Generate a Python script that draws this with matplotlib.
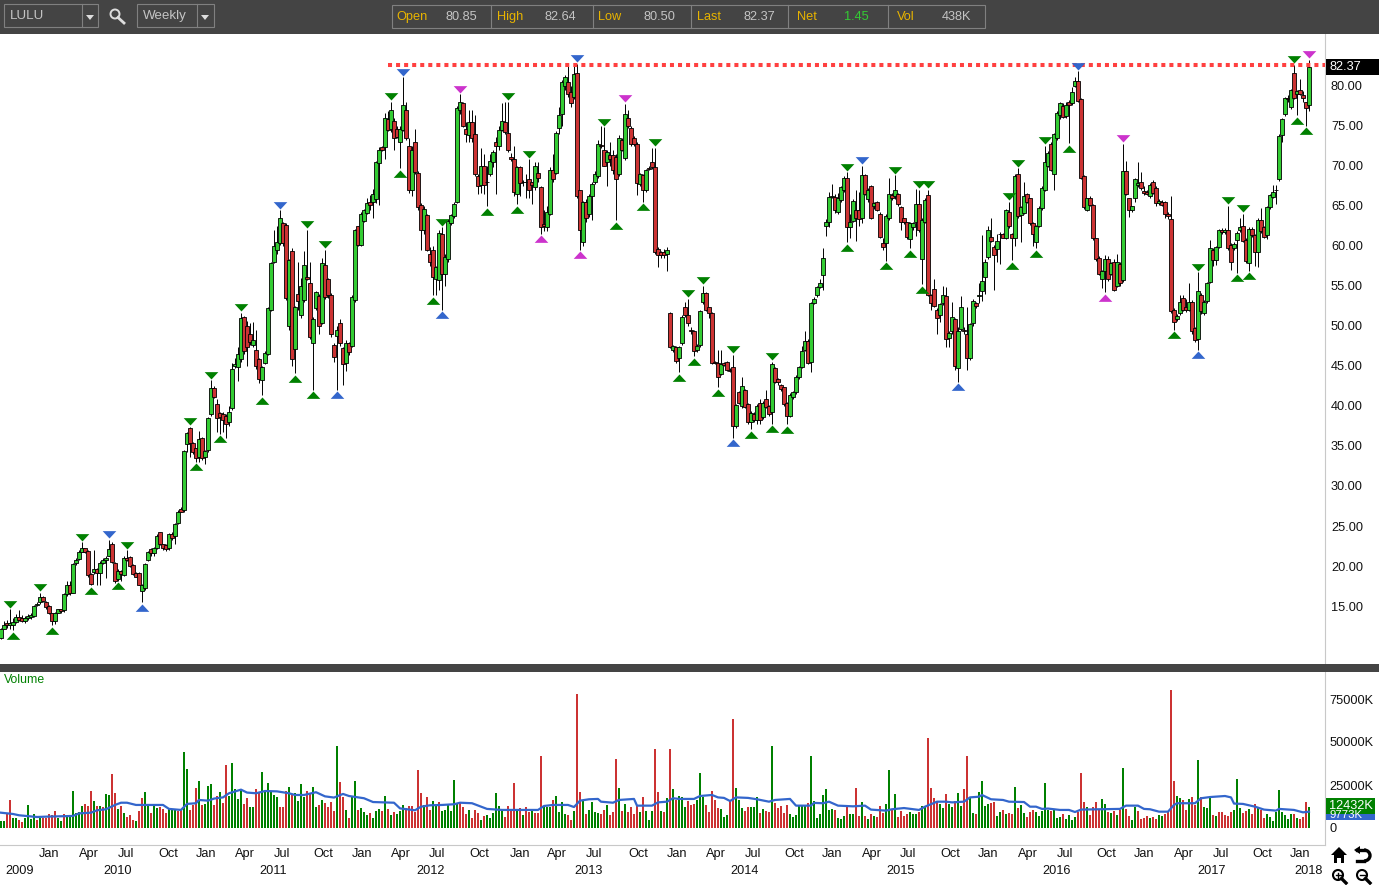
import matplotlib
matplotlib.use("Agg")
import matplotlib.pyplot as plt
from matplotlib.path import Path
from matplotlib.patches import Rectangle, Polygon, Circle, Arc
from matplotlib.transforms import offset_copy

plt.rcParams['font.family'] = ['Liberation Sans', 'DejaVu Sans']

opens = [
11.0,12.2,12.9,12.6,12.6,13.0,13.7,13.5,13.1,13.5,
13.6,13.8,15.1,15.5,16.2,15.5,15.0,14.1,13.1,14.2,
14.6,14.5,16.5,17.6,16.7,20.4,20.9,21.8,22.2,21.9,
19.0,19.3,19.7,19.2,20.4,20.8,21.3,22.8,20.4,18.4,
19.4,18.9,21.0,21.1,20.1,19.1,19.2,16.9,17.3,20.8,
22.1,21.6,22.3,24.2,22.7,22.6,22.2,24.0,23.7,25.4,
27.1,27.0,35.3,37.3,35.4,34.7,33.6,36.0,33.6,34.5,
39.0,42.2,40.2,39.1,39.0,38.8,38.0,39.8,45.0,44.8,
45.9,51.1,50.0,49.0,47.6,47.0,45.9,43.2,45.4,46.5,
52.0,58.0,59.5,60.3,62.8,62.6,50.0,59.4,47.1,54.0,
51.4,53.2,56.1,55.3,47.9,52.2,53.7,50.4,57.6,55.9,
53.9,47.6,48.7,50.4,47.2,45.4,47.8,47.5,53.2,62.4,
60.1,63.1,64.1,65.5,65.4,65.8,70.3,72.3,72.3,75.8,
74.6,75.6,74.6,73.0,74.5,76.9,72.5,67.0,72.9,69.1,
65.1,61.9,63.8,59.0,59.5,55.8,55.7,61.5,56.5,58.3,
62.8,63.7,65.5,76.9,77.8,74.6,73.8,75.4,73.9,68.7,
67.6,69.9,67.9,69.0,70.5,73.0,72.5,74.5,75.5,74.1,
71.1,70.8,66.4,69.8,68.0,67.9,68.3,68.0,67.3,69.1,
67.3,62.7,62.3,64.0,69.5,69.1,74.7,76.5,80.0,80.4,
79.2,78.6,81.6,66.9,60.4,65.5,63.9,66.2,67.9,68.7,
72.6,71.9,70.4,71.3,71.3,71.1,68.9,73.2,71.0,75.9,
74.7,73.4,72.7,67.7,68.8,66.9,69.7,70.4,69.8,59.6,
59.2,59.2,59.0,51.6,47.0,47.4,46.0,47.8,52.3,51.3,
49.5,49.3,47.0,47.6,53.0,54.1,52.3,51.6,45.5,45.4,
44.0,45.3,45.5,44.5,44.8,37.5,41.7,40.0,42.0,40.2,
38.0,39.0,38.3,40.3,38.6,40.8,40.0,39.2,44.7,43.4,
42.6,42.3,40.3,38.8,41.1,41.7,43.6,44.9,47.0,48.1,
45.5,52.9,53.8,54.9,56.3,62.4,63.0,66.1,66.1,64.2,
65.7,66.9,68.5,62.3,63.1,64.5,64.4,63.4,68.8,65.8,
67.4,65.0,65.4,64.0,60.3,60.3,63.4,66.3,66.2,66.4,
64.8,63.4,62.9,60.8,62.3,63.0,65.2,58.4,63.0,66.3,
53.8,54.6,52.0,51.3,52.8,53.7,48.5,49.3,50.8,44.7,
49.6,49.5,49.0,46.0,50.3,52.8,53.7,54.4,56.1,58.6,
61.1,59.9,59.6,61.5,61.4,61.0,64.2,61.4,61.0,68.9,
63.8,64.1,66.4,65.9,62.8,60.4,62.5,64.7,67.0,70.0,
72.7,69.0,73.4,76.3,77.5,76.2,77.9,77.8,80.0,80.5,
78.3,68.7,64.5,66.0,65.1,60.9,58.5,55.8,56.9,58.3,
56.5,58.0,55.0,57.7,55.7,69.3,65.9,64.5,65.9,67.6,
68.0,66.8,66.7,66.2,68.0,67.2,65.3,65.5,65.4,64.0,
63.3,52.0,50.8,51.6,53.5,52.4,52.0,53.0,49.7,48.3,
53.9,51.6,53.1,55.5,59.5,58.2,59.9,62.0,61.7,61.9,
60.1,59.7,60.7,61.9,62.4,60.7,57.9,62.1,61.3,59.2,
63.2,62.3,61.3,64.8,66.1,67.0,68.3,73.8,76.4,78.5,
77.3,81.5,79.0,79.4,78.8,77.9,77.6]

closes = [
12.1,12.7,12.6,12.9,13.0,13.6,13.3,13.2,13.5,13.8,
13.9,15.0,15.3,16.1,15.6,14.9,14.1,13.1,14.2,14.6,
14.4,16.5,17.6,16.7,20.2,20.8,21.8,22.3,21.8,18.9,
17.8,19.7,19.2,20.4,20.8,21.0,22.1,20.5,18.1,19.4,
19.0,21.0,20.7,20.0,19.0,18.7,17.7,17.6,20.2,21.8,
21.6,22.3,23.7,22.8,22.3,22.1,24.0,23.5,25.3,26.8,
26.8,34.4,36.6,35.4,34.2,33.5,35.9,33.5,34.4,38.5,
42.2,41.1,38.5,38.6,38.2,37.8,39.3,44.6,45.2,46.5,
51.0,46.8,47.4,48.0,48.2,45.0,43.3,44.9,46.6,52.2,
57.8,60.0,60.5,63.4,60.3,53.5,58.2,45.9,52.3,53.1,
55.0,57.6,55.8,48.6,50.9,54.2,50.0,57.9,53.6,53.8,
49.0,46.1,49.5,47.8,45.2,47.9,46.7,53.6,61.9,60.1,
64.0,64.4,65.3,65.1,66.5,70.4,72.0,72.0,75.9,74.5,
77.0,73.5,73.6,74.6,77.6,73.5,67.0,72.0,69.2,64.8,
62.0,64.6,59.5,58.0,56.1,57.3,61.6,56.5,58.6,63.1,
63.8,65.2,77.2,77.9,75.0,73.9,75.4,73.4,69.0,67.4,
69.9,67.6,68.0,70.6,71.7,72.5,74.5,75.6,74.2,71.9,
70.8,66.7,69.8,67.8,67.9,68.0,67.0,67.6,69.9,68.4,
62.3,62.4,64.2,69.5,68.3,74.1,76.3,80.4,81.0,78.9,
77.8,81.4,66.2,62.0,65.4,63.5,66.2,67.7,69.0,72.7,
72.4,70.0,71.7,70.8,69.4,68.3,73.5,72.0,76.4,74.9,
72.7,72.7,67.8,68.9,67.0,69.4,69.6,69.8,59.2,58.8,
58.9,58.9,59.5,47.4,47.5,45.6,47.3,51.1,51.3,50.3,
49.4,46.8,47.5,51.8,54.1,52.0,51.6,45.4,45.4,43.6,
45.2,45.1,44.5,44.4,37.5,40.1,40.4,42.5,39.9,38.0,
39.1,38.3,40.0,38.3,40.4,39.9,39.0,45.2,43.0,43.0,
42.1,40.2,38.8,41.4,41.7,43.6,44.9,46.9,48.1,45.4,
52.9,53.4,54.8,55.3,58.5,63.0,66.1,66.2,64.4,66.0,
67.3,68.4,62.3,63.0,65.6,63.4,63.3,68.8,66.5,66.9,
63.5,65.3,64.5,61.1,59.8,63.7,66.4,65.9,67.0,65.2,
62.9,62.9,61.1,62.8,62.8,65.2,61.9,63.2,65.7,53.9,
52.9,52.5,51.0,52.7,53.8,48.4,49.1,51.1,45.0,49.3,
52.4,49.4,46.0,50.2,53.1,52.5,53.9,55.6,58.0,62.0,
60.6,58.8,60.6,61.4,61.0,64.4,62.4,61.0,68.7,63.7,
64.8,66.2,65.5,62.8,61.5,62.4,64.7,67.2,70.5,71.6,
69.5,73.9,76.6,77.8,76.1,77.6,77.6,79.2,80.6,78.1,
68.5,64.8,65.9,65.1,60.9,58.3,56.5,56.9,58.4,55.8,
57.8,54.5,58.0,55.3,69.3,66.5,64.5,64.9,68.3,67.8,
67.2,66.6,66.5,67.6,66.6,65.3,65.6,65.1,64.0,63.7,
51.8,50.5,51.2,53.0,52.0,52.0,53.0,49.3,48.2,54.3,
51.8,53.0,55.3,59.7,58.2,59.8,61.9,61.7,62.0,59.7,
58.0,60.2,61.6,62.3,60.6,58.1,62.1,61.3,59.2,63.2,
61.8,61.1,64.8,66.3,66.7,66.9,73.7,75.8,78.4,78.3,
79.4,78.5,79.3,79.0,78.5,77.2,82.37]

highs = [
12.3,13.2,13.3,14.6,13.5,14.0,14.5,13.9,13.8,14.0,
14.1,15.2,15.5,16.7,16.3,15.6,15.1,14.2,14.3,14.7,
14.7,16.6,18.1,18.1,20.4,21.0,22.0,23.0,22.3,22.0,
19.2,22.0,19.8,20.6,21.0,21.2,23.3,23.0,20.5,19.6,
19.5,21.3,22.0,21.2,20.2,19.3,19.3,17.8,20.4,21.9,
22.2,22.4,24.0,24.3,22.8,22.7,24.1,24.2,25.4,27.0,
27.4,34.5,36.8,37.4,35.5,34.8,36.9,36.1,34.5,38.6,
43.2,42.5,40.8,39.3,39.3,39.0,40.0,45.4,46.0,47.4,
51.6,51.2,50.6,50.4,50.5,49.5,46.0,45.0,46.8,52.4,
58.0,62.0,62.5,64.4,63.0,62.8,58.4,59.7,52.5,58.0,
56.0,59.3,62.0,58.0,51.1,54.4,54.0,58.5,59.5,56.0,
54.1,47.8,50.0,50.8,47.3,48.2,48.0,53.9,62.1,62.5,
64.2,64.6,66.0,66.3,67.1,70.6,72.3,72.4,76.6,76.8,
78.0,76.0,75.0,75.0,81.0,78.0,73.4,72.5,74.6,69.3,
65.3,65.0,64.0,59.8,60.0,57.5,62.0,62.3,59.0,63.3,
64.0,65.4,77.5,78.9,78.0,75.5,77.0,77.0,76.3,68.9,
72.2,71.5,70.0,71.5,72.0,73.6,75.0,77.8,78.0,78.0,
71.6,72.5,70.0,70.0,68.2,68.9,70.8,68.0,70.4,70.4,
67.5,64.5,65.0,69.8,71.5,74.3,77.3,80.7,81.3,82.4,
80.0,82.4,82.7,67.0,65.6,65.8,66.4,67.9,69.3,73.2,
75.0,74.8,72.0,73.0,72.0,71.5,73.8,73.5,77.7,77.0,
74.9,73.7,72.9,69.1,69.0,69.6,70.0,72.2,72.2,59.8,
59.4,59.6,59.9,51.7,47.6,47.5,47.5,51.3,53.0,53.4,
49.8,49.5,47.7,52.0,55.0,54.2,52.4,51.7,45.6,47.0,
47.0,45.5,45.6,44.7,46.4,40.2,41.8,43.6,42.1,40.3,
39.4,39.3,40.2,40.8,40.6,42.0,40.1,45.5,44.9,43.5,
42.7,42.4,40.5,41.6,41.9,43.8,45.0,47.5,49.4,48.3,
53.0,53.6,55.0,55.8,59.7,63.3,66.7,67.7,66.4,66.6,
67.5,68.7,69.2,64.0,65.8,67.0,66.7,70.0,69.0,67.2,
67.6,65.5,65.6,64.2,61.0,64.0,68.5,66.6,68.8,66.6,
65.0,63.5,63.0,63.0,63.0,67.1,67.0,63.5,66.0,67.0,
54.0,55.8,52.2,52.9,55.0,54.8,49.4,53.0,51.0,49.8,
53.7,49.8,52.4,50.4,53.3,53.0,55.3,61.3,58.4,62.4,
63.5,60.1,61.5,61.7,61.6,64.6,65.5,61.6,69.0,69.7,
65.0,68.0,66.6,66.0,63.0,62.6,64.9,67.4,72.5,71.8,
73.0,74.1,76.8,78.0,77.8,78.0,78.2,79.8,81.0,81.8,
78.4,68.8,66.0,66.2,65.2,61.0,58.7,57.0,58.9,58.7,
58.0,58.4,59.0,58.0,72.7,70.6,66.0,65.0,68.5,70.4,
69.2,67.4,66.9,67.8,68.2,67.4,65.8,65.7,65.6,64.2,
66.2,52.2,51.5,53.9,53.8,53.4,55.3,53.2,49.9,56.7,
54.1,53.2,55.5,60.7,59.7,60.0,62.1,62.2,62.2,65.0,
60.3,60.4,61.8,63.4,64.0,60.9,62.3,62.3,61.5,63.4,
64.7,62.5,65.0,66.5,67.6,67.6,73.9,76.0,78.6,78.8,
79.6,82.6,79.5,80.8,79.3,78.0,83.2]

lows = [
10.9,12.1,12.3,12.2,12.0,12.9,13.1,13.0,12.9,13.3,
13.4,13.7,15.0,15.3,15.5,14.7,14.0,12.6,12.8,14.1,
14.2,14.3,16.3,16.4,16.6,20.1,20.8,21.7,21.6,18.6,
17.6,19.0,17.7,17.7,20.3,18.5,21.2,20.4,17.9,18.2,
18.1,18.8,20.6,19.9,18.9,18.6,17.6,15.5,17.0,20.6,
21.3,21.2,22.1,22.6,22.0,21.9,22.0,23.2,22.8,25.3,
26.7,26.8,34.3,33.6,34.0,33.0,33.0,33.2,32.8,34.3,
38.8,41.0,36.8,36.5,36.7,36.0,37.5,39.5,44.7,43.1,
45.5,46.5,45.0,47.6,47.3,44.6,42.9,41.3,45.2,46.4,
51.8,57.8,59.0,60.1,60.0,53.2,49.5,45.0,44.1,52.0,
51.0,53.0,55.7,48.4,42.0,52.0,49.0,50.2,53.4,53.5,
48.6,45.5,42.0,47.5,42.6,44.4,46.4,47.3,53.0,60.0,
60.0,63.0,63.9,64.4,63.4,65.3,65.1,71.8,70.8,74.3,
74.2,72.0,73.4,69.7,74.3,73.2,66.6,66.2,69.0,64.5,
59.5,61.5,59.3,57.5,53.8,53.9,54.5,52.0,55.0,58.0,
62.6,63.5,65.3,76.5,74.8,73.0,73.0,73.0,68.7,66.5,
66.6,66.4,64.9,68.7,69.8,66.4,72.0,74.3,74.0,71.7,
70.6,66.2,65.2,66.2,67.4,65.9,65.9,65.2,67.0,68.0,
61.5,61.8,61.8,63.8,68.0,68.9,74.0,75.0,79.5,78.6,
77.3,78.3,66.0,59.5,60.0,63.0,63.6,63.2,67.7,68.5,
72.2,70.0,67.5,70.0,69.0,63.2,68.7,71.8,70.7,74.7,
72.5,72.5,66.3,67.5,65.5,66.7,69.4,69.6,59.0,57.3,
58.5,58.5,56.9,47.2,46.7,45.4,44.2,47.6,51.1,50.0,
49.0,46.2,46.7,47.4,52.7,51.8,51.0,45.2,45.2,42.3,
43.8,45.0,44.3,44.2,36.0,37.3,40.2,39.8,39.7,37.7,
37.1,38.0,37.8,37.8,38.4,39.7,38.8,37.8,42.8,42.6,
41.9,40.0,37.7,38.6,40.9,41.5,43.4,44.7,46.8,45.2,
44.2,52.7,53.6,54.7,54.5,61.2,62.3,66.0,64.1,64.0,
65.4,66.7,60.4,61.0,62.9,60.6,62.5,62.8,66.3,65.5,
63.3,64.6,64.3,60.9,59.5,58.1,63.2,65.7,65.8,65.0,
62.0,62.7,60.8,59.7,62.0,61.2,61.7,55.2,62.8,53.7,
52.0,52.3,49.0,50.5,52.6,47.3,47.3,49.0,44.5,43.0,
49.4,49.0,44.5,45.7,50.0,52.2,52.8,53.1,54.0,58.4,
60.4,54.5,58.0,57.7,60.9,60.8,62.2,58.2,60.0,63.5,
60.4,63.9,65.3,62.6,60.0,59.7,62.3,64.5,66.8,69.8,
69.3,67.0,73.2,75.8,75.9,76.0,72.8,77.6,79.8,78.0,
68.3,64.6,64.3,64.9,60.7,58.1,56.3,54.7,54.2,55.6,
56.3,54.3,54.8,55.0,55.5,66.3,63.6,64.2,65.5,67.3,
67.0,66.3,66.3,66.0,66.4,65.0,65.1,64.9,63.4,63.3,
51.6,49.5,50.6,51.4,51.8,51.7,51.8,49.0,48.0,47.0,
51.5,51.4,52.9,55.3,57.5,57.6,59.7,61.5,61.5,59.5,
57.0,59.5,56.6,61.7,60.4,57.9,56.9,61.1,57.5,57.4,
61.6,60.9,60.8,64.6,66.0,65.2,68.1,73.0,76.2,78.0,
77.1,78.3,76.3,78.8,78.0,75.0,76.8]

volumes = [
4070,4070,8150,16300,5800,5800,4650,3500,5800,13400,
5200,8150,4650,5800,5800,5800,8150,7500,9900,5800,
4070,8150,7500,6900,21500,8700,9300,12800,14000,12800,
21500,15700,12800,12800,12200,19800,19200,31400,20400,11000,
12800,8700,6400,7500,4650,4070,9900,17500,21000,12800,
8700,12800,11600,12200,11000,8700,11000,10500,10500,9900,
10500,44200,34300,10500,13400,23300,27400,13400,14000,24400,
25600,13400,18600,21000,14600,36700,18600,37800,22700,16900,
22700,14000,17500,12200,12200,22700,20400,32600,21500,26200,
21000,19200,18000,12200,12200,21500,23900,19200,20400,15700,
25600,18000,21500,19800,23900,12200,13400,16300,14600,12200,
15100,9900,47700,26800,18000,10500,5800,18000,27400,10500,
11600,9300,7500,8700,5800,9900,11000,9900,18600,11000,
7500,9300,8150,9900,13400,11600,12800,12800,9300,33800,
20400,13400,18000,10500,15700,13400,15100,9900,10500,13400,
9900,28000,14600,15100,12200,8150,10500,5800,10500,8700,
4650,6980,7500,5800,8700,20400,12800,9900,6400,12800,
10500,26200,9900,11600,7500,12200,9300,9900,8700,8700,
41900,12200,12200,12200,16300,18600,9300,15100,8150,7500,
4650,9900,78000,21000,16300,8150,10500,15100,9300,8700,
8150,10500,13400,7500,9300,40200,23300,9900,14000,9300,
12200,8150,12800,9300,18000,9900,4650,9900,46000,21000,
9900,9300,17500,46000,22700,16300,18600,18000,12200,15700,
13400,14000,16300,32000,18000,13400,9300,21500,16300,11600,
11000,6400,7500,15700,63400,23300,16300,11600,9900,12200,
12200,12200,18000,8700,11000,9900,9300,47700,14600,11600,
12800,8700,13400,8150,6400,7500,12800,12800,12800,14600,
41900,15700,5800,8150,19200,22700,10500,11000,10500,5800,
5200,6980,12200,8150,8150,23300,6980,15100,6980,5200,
8150,6980,6400,12800,8700,14000,33800,11000,19800,6400,
9900,6980,8150,9300,8150,8150,9300,12800,12800,52400,
23300,17500,15700,14000,11600,19800,14000,12200,15700,20400,
12800,22700,41900,17300,8700,8150,21000,27400,12800,14000,
14600,15100,6980,9300,10500,8150,8700,8150,23900,11600,
13400,8700,6400,9300,10500,9300,6980,9900,26200,10500,
9900,10500,5800,6400,8150,5200,7500,4650,6400,9300,
32000,15100,12200,7500,12200,15100,11000,16900,14000,9300,
8700,9900,7500,10500,34900,11000,6980,4650,12200,9900,
5200,5800,6980,5800,6400,5200,7500,6980,8150,9300,
80300,27400,18600,17500,16300,10500,16900,18000,13400,39600,
18000,12200,11600,17500,7500,6980,9300,9300,7500,6980,
9300,10500,28500,11600,8700,9900,11000,8150,14000,12200,
10500,5800,8150,6400,4070,9300,22100,9300,7500,5200,
8150,8150,5800,5200,6400,15100,12432]

volume_sides = "".join([
"ggrrggrrgg","ggrgrrrrrg","grggggggrr","rgrgrggrrg","rgrrrgrrgg",
"rggrrrgggr","rggrrrgrgg","grrgrrgggg","grrggrrggg","gggrrrgrgg",
"ggrrggrgrr","rrgrrgrggr","gggrgggrgr","grgggrrrrr","rgrrggrggg",
"gggrrrgrrr","grggggggrr","rrgrgrrgrr","rgggrggggr","rgrrgrgggg",
"rrgrrrgrgr","rrrgrgggrr","grgrgrgggr","rrgggrrrrr","gggrrgggrr",
"gggrgrrgrr","rrrggggggr","ggggggggrg","ggrggrrgrg","rgrrrggrgr",
"rrrgggrggr","rrrggrggrg","grrggrgggg","rrggrgrrgr","ggrrrggggg",
"rgggrggggr","rrgrrrrggr","grgrgrrggr","rrrgrrggrr","rrggrrgrrg",
"rgggrgrrrr","rgggrrgrrg","rrgggggggg","grgrrrg"])

# Moving average of volume, hand-read vertices (week, thousand shares)
ma_weeks = [0,4,6,12,15,24,26,30,32,35,38,40,42,45,49,54,56,60,62,65,66,69,71,74,76,80,82,85,88,92,
96,98,101,105,108,111,114,116,121,124,131,133,138,140,143,147,151,153,157,160,162,167,179,181,184,189,191,193,196,199,
200,204,206,211,212,217,219,222,224,226,231,233,237,239,241,243,245,249,252,256,258,263,265,270,271,274,276,279,284,288,
290,295,297,301,306,308,312,315,317,321,323,326,327,330,334,336,341,343,345,347,349,353,356,358,360,373,375,379,381,383,
386,389,391,392,398,400,403,408,410,411,414,418,421,425,426,431,434,436]
ma_values = [8900,8150,7400,6400,6600,7000,8500,8900,10300,10900,13400,14700,14700,13400,13400,13400,11100,10500,14000,14400,16300,15900,17100,17800,20200,22300,20600,20200,21500,21300,
20200,19200,19200,20800,18400,17700,19800,18600,17300,15100,14700,11400,10300,12400,13200,13400,13800,14700,14400,12400,11100,10500,10500,12800,13400,13400,12200,15900,16700,16900,
15300,14700,16300,16900,13000,13000,14900,15300,17300,16900,16900,18600,19200,17800,17500,15700,17800,17500,16700,15300,16300,16900,13000,13000,14600,14400,15300,13000,12600,13000,
10700,10100,10900,11600,10500,12400,15300,15300,14900,15300,17800,18200,19200,16700,16300,15300,15100,12400,12400,11100,11300,10500,10500,9300,10700,11100,13000,13000,11100,10900,
9500,9500,13400,14400,14400,17300,18000,18600,17800,14200,14000,12400,10700,10100,11100,10500,9100,9500]

month_labels = ["Jan","Apr","Jul","Oct"] * 8 + ["Jan"]
month_weeks = [16,29.3,41.7,55.7,68.3,81.3,93.7,107.3,120.3,133.3,145.3,159.3,173,185.3,197.7,212.3,225.3,
               238.3,250.7,264.3,277,290.3,302.3,316.3,329,342.3,354.7,368.3,381,394.3,406.7,420.3,433]
year_labels = ["2009","2010","2011","2012","2013","2014","2015","2016","2017","2018"]
year_weeks = [6.3,39,90.7,143.3,196,248,300,352,403.7,436]

price_ticks = [15,20,25,30,35,40,45,50,55,60,65,70,75,80]
volume_ticks = [0,25000,50000,75000]
resistance = 82.5
resistance_start = 129

down_green = [3,13,27,42,63,70,80,102,108,130,147,169,176,201,218,229,234,244,257,282,298,306,309,336,339,348,399,409,414,431]
down_blue = [36,93,134,192,287,359]
down_magenta = [153,208,374,436]
up_green = [4,17,30,39,65,73,87,98,104,133,144,162,172,205,214,226,231,239,250,257,262,282,295,303,307,337,345,356,391,412,416,432,435]
up_blue = [47,112,147,244,319,399]
up_magenta = [180,193,368]

toolbar_stats = [("Open","80.85",396,477),("High","82.64",497,576),("Low","80.50",598,675),
                 ("Last","82.37",697,775),("Net","1.45",797,869),("Vol","438K",897,971)]

W, H = 1379, 885
UP, DOWN = "#33cc33", "#cc3333"
V_UP, V_DOWN = "#008000", "#cc3333"
BLUE, MAG, DGREEN = "#3366cc", "#cc33cc", "#008000"
BAR = "#444444"
AXC = "#c8c8c8"
FS = 9.2

fig = plt.figure(figsize=(W/100, H/100), dpi=100, facecolor="white")
def axes_px(x0, y0, x1, y1):
    return fig.add_axes([x0/W, 1-y1/H, (x1-x0)/W, (y1-y0)/H])

ax = axes_px(0, 34, 1325, 664)
vx = axes_px(0, 672, 1325, 845)
n = len(closes)
xs = list(range(n))
xlim = (-1/3, 1324/3)

# Candles
ax.vlines(xs, lows, highs, color="black", lw=0.7, zorder=2)
bottoms = [min(o, c) for o, c in zip(opens, closes)]
sizes = [abs(c-o) for o, c in zip(opens, closes)]
ccols = [UP if c >= o else DOWN for o, c in zip(opens, closes)]
ax.bar(xs, sizes, bottom=bottoms, width=1.2, color=ccols, edgecolor="black", linewidth=0.6, zorder=3)

# Resistance line
ax.hlines(resistance, resistance_start, xlim[1], color="#ff4040", lw=2.9, linestyles=[(0, (1, 1))], zorder=4)

# Triangle markers, tip at the high / low
dn = Path([(-1, 1.08), (1, 1.08), (0, 0), (-1, 1.08)], closed=True)
up = Path([(-1, -1.08), (1, -1.08), (0, 0), (-1, -1.08)], closed=True)
t_up = offset_copy(ax.transData, fig=fig, x=0, y=1.5, units="dots")
t_dn = offset_copy(ax.transData, fig=fig, x=0, y=-1.5, units="dots")
for idx, col in ((down_green, DGREEN), (down_blue, BLUE), (down_magenta, MAG)):
    ax.plot(idx, [highs[i] for i in idx], ls="none", marker=dn, ms=10.6, mfc=col, mec="none", transform=t_up, zorder=5)
for idx, col in ((up_green, DGREEN), (up_blue, BLUE), (up_magenta, MAG)):
    ax.plot(idx, [lows[i] for i in idx], ls="none", marker=up, ms=10.6, mfc=col, mec="none", transform=t_dn, zorder=5)

ax.set_xlim(xlim)
ax.set_ylim(80-(664-85.5)/8.01, 80+(85.5-34)/8.01)
ax.set_xticks([])
ax.yaxis.tick_right()
ax.set_yticks(price_ticks)
ax.set_yticklabels([f"{v:.2f}" for v in price_ticks], fontsize=FS, color="#111111")
ax.tick_params(axis="y", length=0, pad=4.3)

# Volume
vcols = [V_UP if s == "g" else V_DOWN for s in volume_sides]
vx.bar(xs, volumes, width=2/3, color=vcols, linewidth=0, zorder=2)
vx.plot(ma_weeks, ma_values, color=BLUE, lw=1.6, zorder=3, solid_joinstyle="round")
vx.set_xlim(xlim)
vx.set_ylim((828-845)/1.72*1000, (828-672)/1.72*1000)
vx.yaxis.tick_right()
vx.set_yticks(volume_ticks)
vx.set_yticklabels(["0" if v == 0 else f"{v}K" for v in volume_ticks], fontsize=FS, color="#111111")
vx.tick_params(axis="y", length=0, pad=2.9)
vx.set_xticks(month_weeks)
vx.set_xticklabels(month_labels, fontsize=FS, color="#111111")
vx.set_xticks(year_weeks, minor=True)
vx.set_xticklabels(year_labels, minor=True, fontsize=FS, color="#111111")
vx.tick_params(axis="x", which="major", length=0, pad=2.5)
vx.tick_params(axis="x", which="minor", length=0, pad=14.4)
vx.text(4/1325, 1-(680-672)/173, "Volume", transform=vx.transAxes, color=V_UP, fontsize=FS-0.4, va="center", ha="left")

for a in (ax, vx):
    for s in ("top", "left"):
        a.spines[s].set_visible(False)
    a.spines["right"].set_color(AXC)
    a.spines["bottom"].set_color(AXC)
ax.spines["bottom"].set_visible(False)

# Overlay in pixel coordinates for the application chrome
ov = fig.add_axes([0, 0, 1, 1], zorder=10)
ov.set_xlim(0, W); ov.set_ylim(H, 0); ov.axis("off"); ov.patch.set_alpha(0)
ov.add_patch(Rectangle((0, 0), W, 34, fc=BAR, ec="none"))
ov.add_patch(Rectangle((0, 664), W, 8, fc=BAR, ec="none"))

LB = "#c4c4c4"; BORD = "#808080"
def box(x0, y0, x1, y1):
    ov.add_patch(Rectangle((x0, y0), x1-x0, y1-y0, fc="none", ec=BORD, lw=0.8))
box(4, 4, 98, 27); ov.plot([82, 82], [4, 27], color=BORD, lw=0.8)
box(137, 4, 214, 27); ov.plot([197, 197], [4, 27], color=BORD, lw=0.8)
for cx in (90, 205):
    ov.add_patch(Polygon([(cx-4, 15), (cx+4, 15), (cx, 20)], fc="#dddddd", ec="none"))
ov.text(10, 16, "LULU", color=LB, fontsize=FS+0.4, va="center")
ov.text(143, 15.5, "Weekly", color=LB, fontsize=FS+0.4, va="center")
ov.add_patch(Circle((115, 14), 4.5, fc="none", ec="#dddddd", lw=1.4))
ov.plot([118, 124], [17.5, 23], color="#dddddd", lw=2)

box(392, 5, 985, 28)
for sx in (491, 593, 691, 788, 888):
    ov.plot([sx, sx], [5, 28], color=BORD, lw=0.8)
for name, val, xl, xr in toolbar_stats:
    ov.text(xl, 17, name, color="#e8b400", fontsize=FS, va="center")
    ov.text(xr, 17, val, color="#33cc33" if name == "Net" else LB, fontsize=FS, va="center", ha="right")

# Last-price and volume tags
ov.add_patch(Rectangle((1326, 59), 53, 16, fc="black", ec="none"))
ov.text(1329, 67.5, f"{closes[-1]:.2f}", color="white", fontsize=FS, va="center")
ov.add_patch(Rectangle((1326, 806), 49, 14, fc=BLUE, ec="none"))
ov.text(1330, 814.5, "9773K", color="white", fontsize=FS-1, va="center")
ov.add_patch(Rectangle((1326, 798), 49, 16, fc=V_UP, ec="none"))
ov.text(1329, 806, f"{volumes[-1]}K", color="white", fontsize=FS, va="center")

# Bottom-right navigation icons
ov.add_patch(Polygon([(1331, 855), (1339, 847), (1347, 855), (1344, 855), (1344, 863), (1341, 863), (1341, 858),
                      (1337, 858), (1337, 863), (1334, 863), (1334, 855)], fc="black", ec="none"))
ov.add_patch(Arc((1364, 855.5), 12, 11, theta1=-90, theta2=90, color="black", lw=2.4))
ov.plot([1357, 1364], [861, 861], color="black", lw=2.4)
ov.plot([1364, 1357], [850, 850], color="black", lw=2.4)
ov.add_patch(Polygon([(1360, 846), (1360, 854), (1354, 850)], fc="black", ec="none"))
for cx, plus in ((1338, True), (1362, False)):
    ov.add_patch(Circle((cx, 875), 5, fc="none", ec="black", lw=1.5))
    ov.plot([cx+3.5, cx+8], [878.5, 883], color="black", lw=2.4)
    ov.plot([cx-2.5, cx+2.5], [875, 875], color="black", lw=1)
    if plus:
        ov.plot([cx, cx], [872.5, 877.5], color="black", lw=1)

fig.savefig("out.png", dpi=100, facecolor="white")
